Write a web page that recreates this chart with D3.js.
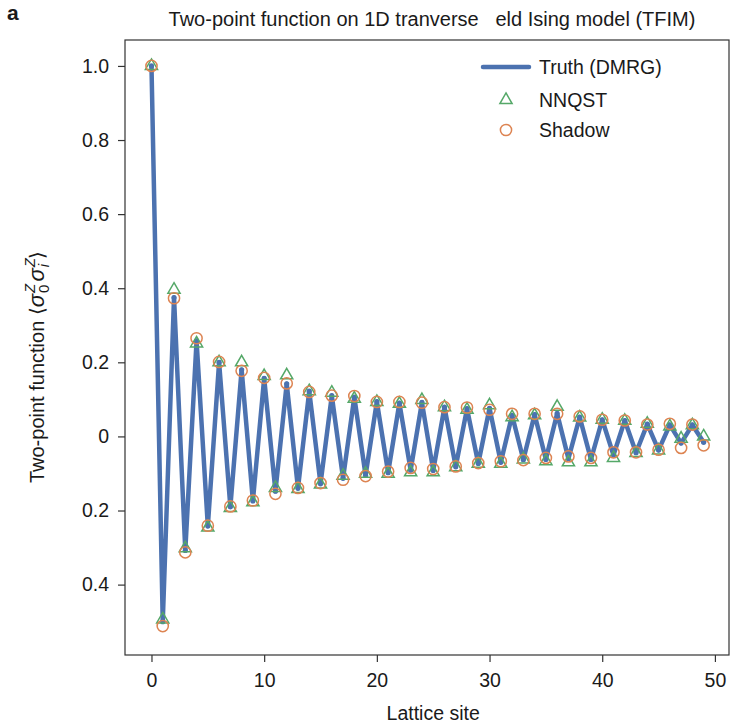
<!DOCTYPE html>
<html>
<head>
<meta charset="utf-8">
<script src="https://cdn.jsdelivr.net/npm/d3@7"></script>
<style>
  html, body { margin: 0; padding: 0; background: #fff; }
  svg text { font-family: "Liberation Sans", Arial, Helvetica, sans-serif; fill: #1a1a1a; }
</style>
</head>
<body>
<svg id="chart" width="751" height="725"></svg>
<script>
// Lattice sites 0..49
const sites = d3.range(0, 50);

// DMRG reference two-point function <sigma_0^z sigma_i^z>
const truth = [
  1.000, -0.500, 0.375, -0.308, 0.258, -0.242, 0.200, -0.190, 0.180, -0.174,
  0.157, -0.148, 0.142, -0.140, 0.122, -0.128, 0.110, -0.113, 0.106, -0.105,
  0.094, -0.098, 0.090, -0.091, 0.092, -0.092, 0.079, -0.082, 0.075, -0.073,
  0.076, -0.070, 0.057, -0.063, 0.059, -0.062, 0.062, -0.060, 0.052, -0.062,
  0.045, -0.050, 0.043, -0.044, 0.033, -0.037, 0.031, -0.018, 0.031, -0.016
];

// Neural-network quantum state tomography estimate
const nnqst = [
  1.000, -0.494, 0.396, -0.302, 0.251, -0.246, 0.200, -0.193, 0.200, -0.178,
  0.163, -0.139, 0.165, -0.142, 0.122, -0.130, 0.118, -0.106, 0.102, -0.101,
  0.093, -0.101, 0.088, -0.097, 0.098, -0.097, 0.079, -0.083, 0.072, -0.074,
  0.084, -0.074, 0.052, -0.062, 0.057, -0.067, 0.080, -0.070, 0.051, -0.070,
  0.045, -0.058, 0.042, -0.045, 0.034, -0.038, 0.027, -0.006, 0.030, 0.000
];

// Classical shadow estimate
const shadow = [
  1.000, -0.512, 0.373, -0.313, 0.265, -0.241, 0.201, -0.189, 0.177, -0.173,
  0.158, -0.155, 0.143, -0.139, 0.120, -0.126, 0.110, -0.117, 0.109, -0.107,
  0.093, -0.095, 0.093, -0.085, 0.091, -0.088, 0.079, -0.081, 0.078, -0.072,
  0.072, -0.067, 0.061, -0.064, 0.061, -0.058, 0.061, -0.054, 0.054, -0.058,
  0.045, -0.043, 0.043, -0.043, 0.032, -0.036, 0.034, -0.031, 0.032, -0.024
];

const xTicks = [0, 10, 20, 30, 40, 50];
const yTicks = [1.0, 0.8, 0.6, 0.4, 0.2, 0, -0.2, -0.4];
// tick text as printed (the negative values carry no minus glyph)
const yTickLabels = ["1.0", "0.8", "0.6", "0.4", "0.2", "0", "0.2", "0.4"];

const titleText = "Two-point function on 1D tranverse   eld Ising model (TFIM)";
const legendLabels = ["Truth (DMRG)", "NNQST", "Shadow"];

const colors = { truth: "#4c72b0", nnqst: "#55a868", shadow: "#dd8452" };
const fs = "19.5px";

const svg = d3.select("#chart");
const frame = { left: 125, right: 729, top: 40, bottom: 655 };

const x = d3.scaleLinear().domain([-2.35, 51.25]).range([frame.left, frame.right]);
const y = d3.scaleLinear().domain([-0.59, 1.07]).range([frame.bottom, frame.top]);

// panel letter and title
svg.append("text").attr("x", 7).attr("y", 20)
  .style("font-size", "21px").style("font-weight", "bold").text("a");
svg.append("text").attr("x", (frame.left + frame.right) / 2 + 5).attr("y", 26)
  .attr("text-anchor", "middle").style("font-size", "20px")
  .style("white-space", "pre").text(titleText);

// frame
svg.append("rect")
  .attr("x", frame.left).attr("y", frame.top)
  .attr("width", frame.right - frame.left).attr("height", frame.bottom - frame.top)
  .attr("fill", "none").attr("stroke", "#333").attr("stroke-width", 1.2);

// axes
const xAxis = svg.append("g").attr("transform", `translate(0,${frame.bottom})`)
  .call(d3.axisBottom(x).tickValues(xTicks).tickSize(7).tickPadding(11).tickFormat(d3.format("d")));
const yAxis = svg.append("g").attr("transform", `translate(${frame.left},0)`)
  .call(d3.axisLeft(y).tickValues(yTicks).tickSize(7).tickPadding(9)
    .tickFormat((d, i) => yTickLabels[i]));
[xAxis, yAxis].forEach(g => {
  g.select(".domain").remove();
  g.selectAll(".tick line").attr("stroke", "#333").attr("stroke-width", 1.2);
  g.selectAll(".tick text").style("font-size", fs).attr("fill", "#1a1a1a")
    .style("font-family", "'Liberation Sans', Arial, sans-serif");
});

// axis titles
svg.append("text").attr("x", x(25)).attr("y", 720).attr("text-anchor", "middle")
  .style("font-size", fs).text("Lattice site");

const yl = svg.append("text")
  .attr("transform", "translate(44,367) rotate(-90)")
  .attr("text-anchor", "middle").style("font-size", "20px");
yl.append("tspan").text("Two-point function \u27E8");
yl.append("tspan").style("font-style", "italic").style("font-size", "22px").text("\u03C3");
const sup1 = yl.append("tspan").style("font-size", "15px").style("font-style", "italic")
  .attr("dy", -9).attr("dx", 1).text("Z");
const sub1 = yl.append("tspan").style("font-size", "15px").attr("dy", 14).text("0");
yl.append("tspan").style("font-style", "italic").style("font-size", "22px")
  .attr("dy", -5).attr("dx", 3).text("\u03C3");
const sup2 = yl.append("tspan").style("font-size", "15px").style("font-style", "italic")
  .attr("dy", -9).attr("dx", 1).text("Z");
const sub2 = yl.append("tspan").style("font-size", "15px").style("font-style", "italic")
  .attr("dy", 14).text("i");
yl.append("tspan").attr("dy", -5).attr("dx", 5).text("\u27E9");
// stack subscripts under their superscripts
sub1.attr("dx", -sup1.node().getComputedTextLength());
sub2.attr("dx", -sup2.node().getComputedTextLength());

// truth line with small vertex dots
const line = d3.line().x((d, i) => x(sites[i])).y(d => y(d));
svg.append("path").datum(truth).attr("d", line)
  .attr("fill", "none").attr("stroke", colors.truth).attr("stroke-width", 4.5)
  .attr("stroke-linejoin", "round");
svg.append("g").selectAll("circle").data(truth).join("circle")
  .attr("cx", (d, i) => x(sites[i])).attr("cy", d => y(d)).attr("r", 2.6)
  .attr("fill", colors.truth);

// NNQST triangles
const tri = d3.symbol().type(d3.symbolTriangle).size(64);
svg.append("g").selectAll("path").data(nnqst).join("path")
  .attr("d", tri)
  .attr("transform", (d, i) => `translate(${x(sites[i])},${y(d)})`)
  .attr("fill", "none").attr("stroke", colors.nnqst).attr("stroke-width", 1.5);

// Shadow circles
svg.append("g").selectAll("circle").data(shadow).join("circle")
  .attr("cx", (d, i) => x(sites[i])).attr("cy", d => y(d)).attr("r", 5.6)
  .attr("fill", "none").attr("stroke", colors.shadow).attr("stroke-width", 1.5);

// legend
const lg = svg.append("g");
lg.append("line").attr("x1", 483).attr("x2", 529).attr("y1", 67).attr("y2", 67)
  .attr("stroke", colors.truth).attr("stroke-width", 4.5).attr("stroke-linecap", "round");
lg.append("path").attr("d", tri).attr("transform", "translate(506,100)")
  .attr("fill", "none").attr("stroke", colors.nnqst).attr("stroke-width", 1.5);
lg.append("circle").attr("cx", 506).attr("cy", 130).attr("r", 5.6)
  .attr("fill", "none").attr("stroke", colors.shadow).attr("stroke-width", 1.5);
lg.selectAll("text").data(legendLabels).join("text")
  .attr("x", 539).attr("y", (d, i) => [67, 100, 130][i] + 7)
  .style("font-size", fs).text(d => d);
</script>
</body>
</html>
